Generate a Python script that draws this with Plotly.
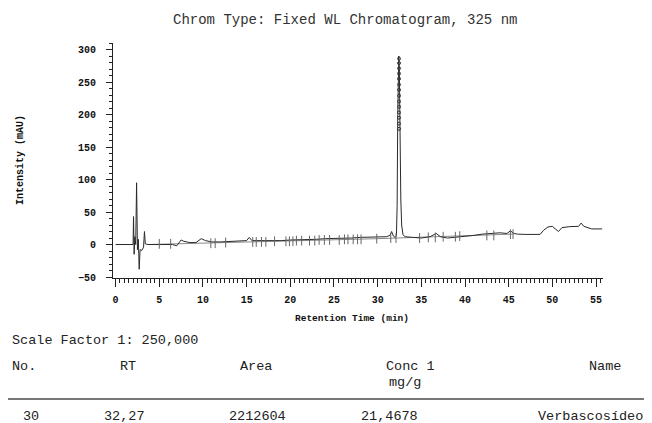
import plotly.graph_objects as go

# ---- data ----
rt_min = [0, 1.5, 2.0, 2.05, 2.12, 2.2, 2.3, 2.4, 2.5, 2.6, 2.7, 2.8, 3.0, 3.2, 3.3, 3.4, 3.7,
          5.0, 6.5, 7.0, 7.5, 7.8, 8.5, 9.2, 9.8, 10.3, 11, 12, 13, 14, 15.0, 15.3, 15.6, 17, 18,
          19, 20, 21, 22, 23, 24, 25, 26, 27, 28, 29, 30, 31, 31.4, 31.6, 31.8, 32.0,
          32.15, 32.23, 32.3, 32.37, 32.42, 32.48, 32.55, 32.65, 32.75, 32.9, 33.15, 33.6, 34.0,
          35, 36, 36.7, 37.2, 38, 39, 40, 41, 42, 43, 44, 44.8, 45.2, 45.6, 46, 47, 48, 48.6,
          49, 49.5, 50, 50.3, 50.7, 51.1, 52, 53, 53.3, 53.6, 54, 54.5, 55.7]
intensity_mau = [0, 0, 0, 43, -15, 12, 0, 95, -8, 8, -38, -8, -9, -4, 20, 1, 0,
                 0, 0, -2, 7, 5, 3, 3, 9, 6, 4, 4, 4.5, 5, 6, 11, 6, 6, 5.5,
                 6, 7, 7, 8, 8, 9, 9, 9.5, 10, 11, 11, 11, 12, 14, 20, 13, 11,
                 14, 60, 200, 280, 290, 275, 150, 70, 30, 15, 12, 11, 11,
                 10, 12, 17, 12, 10, 11, 13, 14, 16, 17, 18, 17, 21, 17, 16, 15.5, 15.5, 15.6,
                 22, 27, 28, 25, 20, 26, 27.5, 28, 33, 28, 26, 24, 24]

baseline_t = [3.7, 10, 20, 30, 45.5]
baseline_v = [0, 2, 5, 9, 16]

mark_t = [5.0, 6.3, 10.9, 11.4, 12.6, 15.7, 16.1, 16.7, 17.2, 18.2, 19.5, 19.9, 20.3, 20.7,
          21.3, 22.2, 22.8, 23.3, 23.9, 24.5, 25.6, 26.2, 26.6, 27.2, 27.7, 28.1, 29.9,
          31.5, 32.1, 34.8, 35.8, 36.6, 37.5, 38.9, 39.4, 42.5, 43.3, 45.2, 45.5]
mark_v = [1, 1, 2, 2, 3, 4, 4, 4, 4, 5, 5, 5, 5, 6,
          6, 6, 6, 7, 7, 7, 7, 8, 8, 8, 8, 8, 9,
          10, 10, 10, 11, 11, 12, 12, 13, 14, 14, 16, 16]

peak_label_t = [32.45] * 14
peak_label_v = [178, 186, 195, 203, 212, 220, 229, 238, 246, 255, 263, 271, 279, 286]

x_ticks = [0, 5, 10, 15, 20, 25, 30, 35, 40, 45, 50, 55]
y_ticks = [-50, 0, 50, 100, 150, 200, 250, 300]

title_text = "Chrom Type: Fixed WL Chromatogram, 325 nm"
scale_text = "Scale Factor 1: 250,000"
table_header = ["No.", "RT", "Area", "Conc 1", "Name"]
table_unit = "mg/g"
table_row = ["30", "32,27", "2212604", "21,4678", "Verbascosídeo"]

# ---- figure ----
PAGE_W, PAGE_H = 652, 423
OFF = 8  # default page body margin
W, H = PAGE_W - OFF, PAGE_H - OFF
L, R, T, B = 113, 603, 43, 278  # plot area in page pixels


def px(x):
    return (x - L) / (R - L)


def py(y):
    return (B - y) / (B - T)


mono = "Liberation Mono, Courier New, monospace"

fig = go.Figure()
fig.add_trace(go.Scatter(x=baseline_t, y=baseline_v, mode="lines",
                         line=dict(color="#8a8a8a", width=1), hoverinfo="skip"))
fig.add_trace(go.Scatter(x=rt_min, y=intensity_mau, mode="lines",
                         line=dict(color="#2a2a2a", width=1)))
fig.add_trace(go.Scatter(x=mark_t, y=mark_v, mode="markers",
                         marker=dict(symbol="line-ns", size=7, color="#666",
                                     line=dict(color="#666", width=1))))
fig.add_trace(go.Scatter(x=peak_label_t, y=peak_label_v, mode="markers",
                         marker=dict(symbol="circle-open", size=3, color="#333",
                                     line=dict(color="#333", width=1))))

axis_font = dict(family=mono, size=10, color="#111", weight="bold")
fig.update_xaxes(range=[-0.3, 55.8], tickvals=x_ticks, ticks="outside", ticklen=8, tickcolor="#222",
                 showline=True, linecolor="#222", linewidth=1, showgrid=False, zeroline=False,
                 tickfont=axis_font, ticklabelstandoff=4,
                 minor=dict(dtick=0.5, tick0=0, ticks="outside", ticklen=4, tickcolor="#222"))
fig.update_yaxes(range=[-51.5, 310], tickvals=y_ticks, ticks="outside", ticklen=6, tickcolor="#222",
                 showline=True, linecolor="#222", linewidth=1, showgrid=False, zeroline=False,
                 tickfont=axis_font, ticklabelstandoff=8,
                 minor=dict(dtick=10, tick0=0, ticks="outside", ticklen=3, tickcolor="#222"))

ann = []
ann.append(dict(text=title_text, x=px(345), y=py(20), xanchor="center", yanchor="middle",
                font=dict(family=mono, size=14, color="#333")))
ann.append(dict(text="Intensity (mAU)", x=px(20), y=py(160), textangle=-90, xanchor="center",
                yanchor="middle", font=dict(family=mono, size=10, color="#111", weight="bold")))
ann.append(dict(text="Retention Time (min)", x=px(352), y=py(318), xanchor="center", yanchor="middle",
                font=dict(family=mono, size=9.5, color="#111", weight="bold")))
tfont = dict(family=mono, size=13.5, color="#222")
ann.append(dict(text=scale_text, x=px(10), y=py(340), xanchor="left", yanchor="middle", font=tfont))
for txt, xl in zip(table_header, [10, 118, 238, 384, 587]):
    ann.append(dict(text=txt, x=px(xl), y=py(366), xanchor="left", yanchor="middle", font=tfont))
ann.append(dict(text=table_unit, x=px(387), y=py(382), xanchor="left", yanchor="middle", font=tfont))
for txt, xl in zip(table_row, [21, 102, 227, 359, 536]):
    ann.append(dict(text=txt, x=px(xl), y=py(416), xanchor="left", yanchor="middle", font=tfont))
for a in ann:
    a.update(xref="paper", yref="paper", showarrow=False)

fig.update_layout(
    width=W, height=H, margin=dict(l=L - OFF, r=PAGE_W - R, t=T - OFF, b=PAGE_H - B),
    paper_bgcolor="white", plot_bgcolor="white", showlegend=False,
    annotations=ann,
    shapes=[dict(type="line", xref="paper", yref="paper", x0=px(0), x1=px(652), y0=py(399), y1=py(399),
                 line=dict(color="#777", width=2))],
)

fig.write_html("out.html")
